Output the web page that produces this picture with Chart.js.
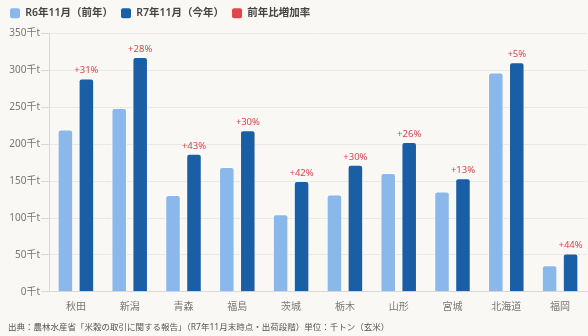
<!DOCTYPE html>
<html><head><meta charset="utf-8">
<script src="https://cdn.jsdelivr.net/npm/chart.js@4.4.1/dist/chart.umd.min.js"></script>
<style>
html,body{margin:0;padding:0;background:#f9f8f5;}
#wrap{width:588px;height:336px;position:relative;}
</style></head><body>
<div id="wrap"><canvas id="c" width="588" height="336"></canvas></div>
<script>
const categories = ['秋田','新潟','青森','福島','茨城','栃木','山形','宮城','北海道','福岡'];
const prevYear = [220, 249, 131, 169, 105, 132, 161, 136, 297, 36];
const thisYear = [289, 318, 187, 219, 150, 172, 203, 154, 311, 52];
const growthRate = [31, 28, 43, 30, 42, 30, 26, 13, 5, 44];
const yTicks = [0, 50, 100, 150, 200, 250, 300, 350];

const FONT = '"Noto Sans","Noto Sans CJK JP",sans-serif';

const labelPlugin = {
  id: 'rateLabels',
  afterDatasetsDraw(chart) {
    const meta = chart.getDatasetMeta(1);
    const ctx = chart.ctx;
    ctx.save();
    ctx.fillStyle = '#e0464e';
    ctx.font = '9.5px ' + FONT;
    ctx.textAlign = 'center';
    ctx.textBaseline = 'bottom';
    meta.data.forEach((bar, i) => {
      ctx.fillText('+' + growthRate[i] + '%', bar.x, bar.y - 3);
    });
    ctx.restore();
  }
};

const layoutTweaks = {
  id: 'layoutTweaks',
  beforeInit(chart) {
    const lg = chart.legend;
    if (lg) {
      const fit = lg.fit;
      lg.fit = function() { fit.call(this); this.height += 5; };
    }
  },
  afterLayout(chart) {
    if (chart.titleBlock) { chart.titleBlock.left += 6; chart.titleBlock.right += 6; }
  }
};

new Chart(document.getElementById('c'), {
  type: 'bar',
  data: {
    labels: categories,
    datasets: [
      { label: 'R6年11月（前年）', data: prevYear, backgroundColor: '#8ab8ea', borderColor: 'rgba(255,255,255,0.5)', borderWidth: 1, borderRadius: 3, borderSkipped: 'bottom', categoryPercentage: 0.78, barPercentage: 0.74 },
      { label: 'R7年11月（今年）', data: thisYear, backgroundColor: '#1a5ea6', borderColor: 'rgba(255,255,255,0.3)', borderWidth: 1, borderRadius: 3, borderSkipped: 'bottom', categoryPercentage: 0.78, barPercentage: 0.74 },
      { label: '前年比増加率', data: [], backgroundColor: '#e0464e', borderColor: '#e0464e', type: 'line', showLine: false, pointRadius: 0 }
    ]
  },
  options: {
    responsive: false,
    animation: false,
    layout: { padding: { left: 2, right: 1, top: 0, bottom: 0 } },
    plugins: {
      legend: {
        position: 'top', align: 'start',
        labels: { boxWidth: 10, boxHeight: 10, padding: 8, color: '#444', font: { family: FONT, size: 10.5, weight: '600' },
          generateLabels(chart) {
            return chart.data.datasets.map((ds, i) => ({
              text: ds.label, fillStyle: ds.backgroundColor, strokeStyle: ds.backgroundColor, lineWidth: 0,
              borderRadius: 2, datasetIndex: i, fontColor: '#444'
            }));
          }
        }
      },
      title: {
        display: true, position: 'bottom', align: 'start',
        text: '出典：農林水産省「米穀の取引に関する報告」（R7年11月末時点・出荷段階）単位：千トン（玄米）',
        color: '#555', font: { family: FONT, size: 8.5, weight: 'normal' }, padding: { top: 8, bottom: 3 }
      },
      tooltip: { enabled: false }
    },
    scales: {
      x: {
        grid: { display: false },
        border: { color: '#d8d8d8' },
        ticks: { color: '#777', font: { family: FONT, size: 10 }, padding: 1.5 }
      },
      y: {
        min: 0, max: 350,
        afterBuildTicks(scale) { scale.ticks = yTicks.map(v => ({ value: v })); },
        afterFit(scale) { scale.width = 47; },
        grid: { color: '#ebe9e5', drawTicks: true, tickLength: 8, tickColor: '#d8d8d8' },
        border: { color: '#d8d8d8' },
        ticks: { color: '#777', font: { family: FONT, size: 10 }, padding: 1, callback: v => v + '千t' }
      }
    }
  },
  plugins: [labelPlugin, layoutTweaks]
});
</script>
</body></html>
